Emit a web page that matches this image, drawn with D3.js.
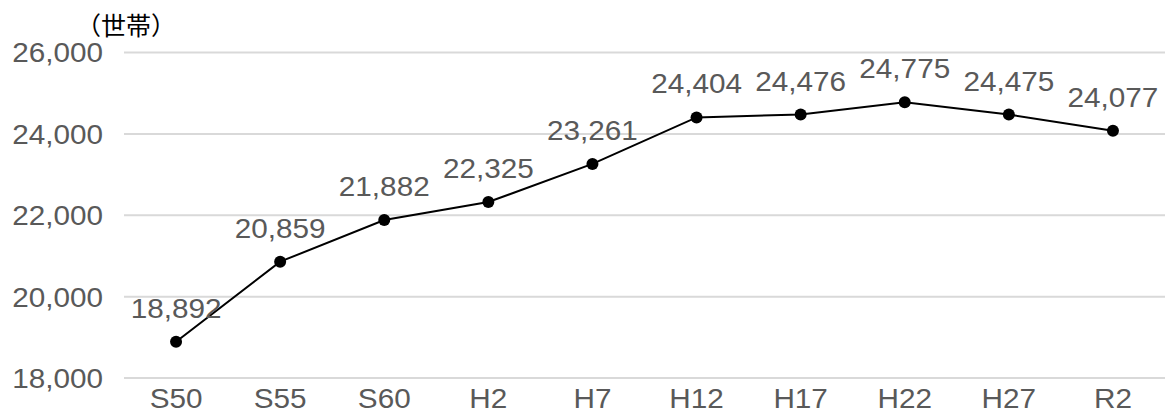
<!DOCTYPE html>
<html>
<head>
<meta charset="utf-8">
<script src="https://cdn.jsdelivr.net/npm/d3@7"></script>
<style>
  html, body { margin: 0; padding: 0; background: #fff; }
  svg { display: block; }
  .lbl { font-family: "Liberation Sans", Arial, sans-serif; font-size: 27px; fill: #595959; }
</style>
</head>
<body>
<svg id="chart" width="1165" height="414"></svg>
<script>
// 世帯数の推移
const periods = ["S50", "S55", "S60", "H2", "H7", "H12", "H17", "H22", "H27", "R2"];
const households = [18892, 20859, 21882, 22325, 23261, 24404, 24476, 24775, 24475, 24077];
const yTicks = [18000, 20000, 22000, 24000, 26000];
const unitLabel = "（世帯）";

const svg = d3.select("#chart");
const margin = { left: 124, right: 0, top: 52.5, bottom: 36 };
const W = 1165, H = 414;
const stretch = "scale(1.1,1)";   // slightly wide lettering

const x = d3.scaleBand().domain(periods).range([margin.left, W - margin.right]);
const y = d3.scaleLinear().domain([18000, 26000]).range([H - margin.bottom, margin.top]);
const fmt = d3.format(",");

// gridlines
svg.append("g").selectAll("line").data(yTicks).join("line")
  .attr("x1", margin.left).attr("x2", W - margin.right)
  .attr("y1", d => y(d)).attr("y2", d => y(d))
  .attr("stroke", "#d9d9d9").attr("stroke-width", 2);

// y axis labels
const yAxis = svg.append("g")
  .attr("transform", `translate(${margin.left - 21},0)`)
  .call(d3.axisLeft(y).tickValues(yTicks).tickFormat(fmt).tickSize(0).tickPadding(0));
yAxis.select(".domain").remove();
yAxis.selectAll("text").attr("class", "lbl")
  .attr("font-family", null).attr("font-size", null).attr("fill", null)
  .attr("dy", "0.35em").attr("transform", stretch);

// x axis labels
const xAxis = svg.append("g")
  .attr("transform", `translate(0,${H - margin.bottom})`)
  .call(d3.axisBottom(x).tickSize(0).tickPadding(0));
xAxis.select(".domain").remove();
xAxis.selectAll("text").attr("class", "lbl")
  .attr("font-family", null).attr("font-size", null).attr("fill", null)
  .attr("y", 30).attr("dy", null).attr("transform", stretch);

// unit
svg.append("text")
  .attr("x", 126).attr("y", 35)
  .attr("text-anchor", "middle")
  .attr("font-family", "'Noto Sans CJK JP', sans-serif")
  .attr("font-size", 25).attr("fill", "#000")
  .text(unitLabel);

const px = (d, i) => x(periods[i]) + x.bandwidth() / 2;

// line
svg.append("path")
  .datum(households)
  .attr("fill", "none").attr("stroke", "#000").attr("stroke-width", 2)
  .attr("d", d3.line().x(px).y(d => y(d)));

// markers
svg.append("g").selectAll("circle").data(households).join("circle")
  .attr("cx", px).attr("cy", d => y(d)).attr("r", 6).attr("fill", "#000");

// data labels
svg.append("g").selectAll("g").data(households).join("g")
  .attr("transform", (d, i) => `translate(${px(d, i)},${y(d) - 24})`)
  .append("text")
  .attr("class", "lbl")
  .attr("text-anchor", "middle")
  .attr("transform", stretch)
  .text(d => fmt(d));
</script>
</body>
</html>
